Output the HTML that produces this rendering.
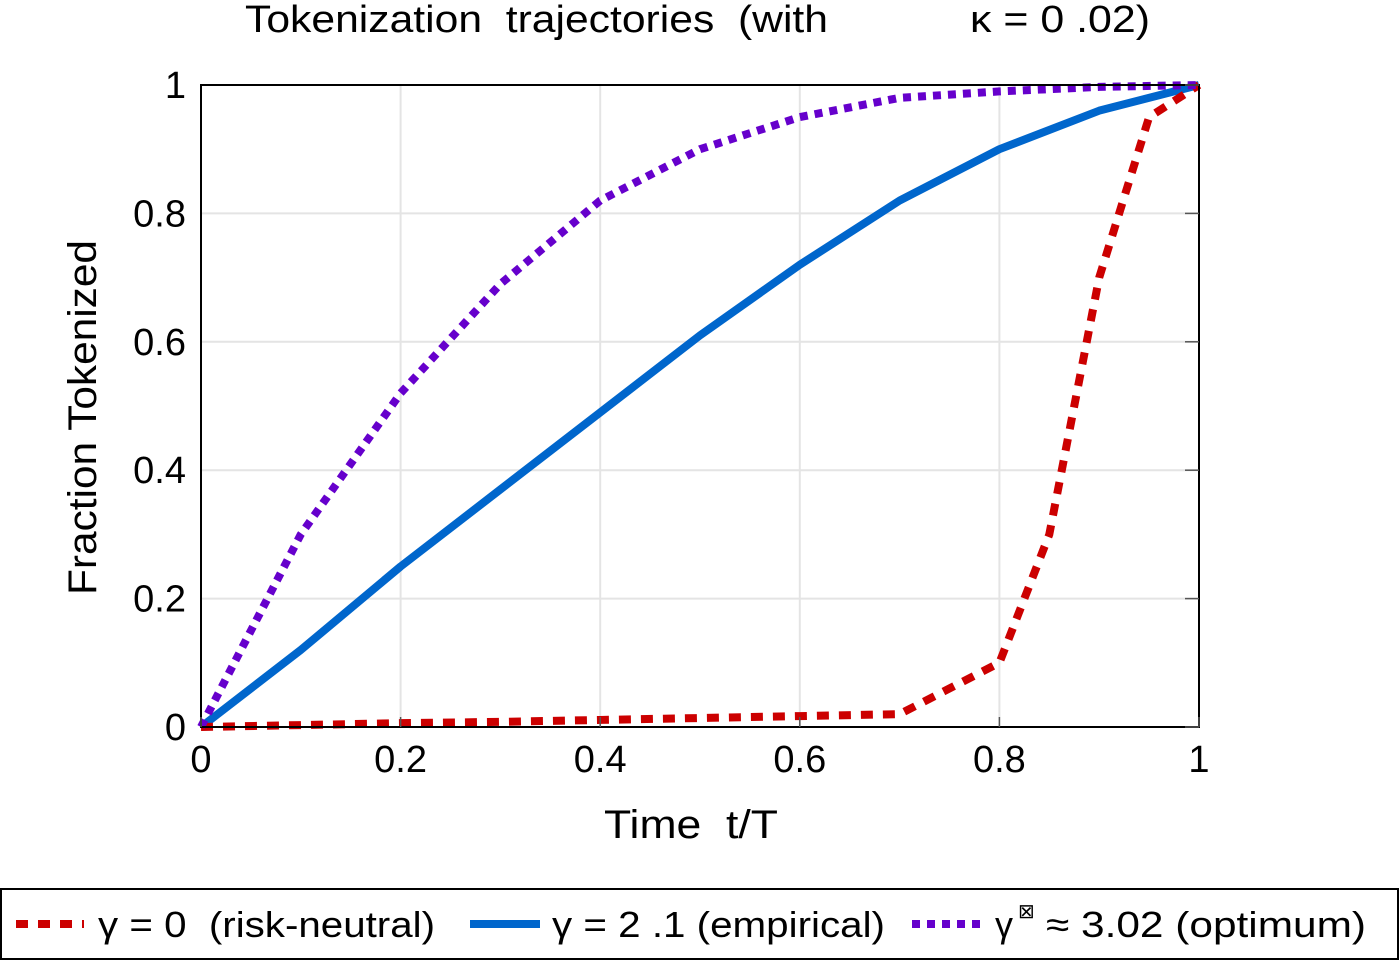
<!DOCTYPE html>
<html><head><meta charset="utf-8"><style>
html,body{margin:0;padding:0;background:#fff;}
svg text{font-family:"Liberation Sans",sans-serif;fill:#000;white-space:pre;}
</style></head><body>
<svg id="chart" width="1400" height="961" xmlns="http://www.w3.org/2000/svg">
<g>
<text x="245" y="32" font-size="38" textLength="583" lengthAdjust="spacingAndGlyphs">Tokenization  trajectories  (with</text>
<text x="970" y="32" font-size="38" textLength="180" lengthAdjust="spacingAndGlyphs">κ = 0 .02)</text>
</g>
<g id="grid"></g>
<g id="series"></g>
<rect x="201" y="85" width="998" height="642" fill="none" stroke="#000" stroke-width="2"/>
<g id="ticks"></g>
<text x="604" y="838" font-size="40" textLength="174" lengthAdjust="spacingAndGlyphs">Time  t/T</text>
<text transform="translate(96,595) rotate(-90)" font-size="40" textLength="355" lengthAdjust="spacingAndGlyphs">Fraction Tokenized</text>
<g>
<rect x="1" y="889" width="1397" height="70" fill="#fff" stroke="#000" stroke-width="2"/>
<g>
<line x1="16" y1="924" x2="84" y2="924" stroke="#cc0000" stroke-width="8" stroke-dasharray="12,10"/>
<text x="98" y="937" font-size="36" textLength="337" lengthAdjust="spacingAndGlyphs">γ = 0  (risk-neutral)</text></g>
<g>
<line x1="470" y1="924" x2="540" y2="924" stroke="#0066cc" stroke-width="8"/>
<text x="552" y="937" font-size="36" textLength="333" lengthAdjust="spacingAndGlyphs">γ = 2 .1 (empirical)</text></g>
<g>
<line x1="912" y1="924" x2="985" y2="924" stroke="#6600cc" stroke-width="8" stroke-dasharray="8,7"/>
<text x="995" y="937" font-size="36">γ</text>
<text x="1018" y="918" font-size="20">⊠</text>
<text x="1046" y="937" font-size="36" textLength="320" lengthAdjust="spacingAndGlyphs">≈ 3.02 (optimum)</text></g>
</g>
</svg>
<script>
const xTicks=[0,0.2,0.4,0.6,0.8,1];
const yTicks=[0,0.2,0.4,0.6,0.8,1];
const xTickLabels=["0","0.2","0.4","0.6","0.8","1"];
const yTickLabels=["0","0.2","0.4","0.6","0.8","1"];
const redX=[0,0.1,0.2,0.3,0.4,0.5,0.6,0.7,0.8,0.85,0.9,0.95,1];
const redY=[0,0.003,0.006,0.008,0.011,0.014,0.017,0.02,0.1,0.3,0.7,0.95,1];
const blueX=[0,0.1,0.2,0.3,0.4,0.5,0.6,0.7,0.8,0.9,1];
const blueY=[0,0.12,0.25,0.37,0.49,0.61,0.72,0.82,0.9,0.96,1];
const purpleX=[0,0.1,0.2,0.3,0.4,0.5,0.6,0.7,0.8,0.9,1];
const purpleY=[0,0.3,0.52,0.69,0.82,0.9,0.95,0.98,0.99,0.997,1];
const NS="http://www.w3.org/2000/svg";
const sx=v=>201+v*998, sy=v=>727-v*642;
const grid=document.getElementById('grid'),ticks=document.getElementById('ticks'),series=document.getElementById('series');
function mk(tag,attrs,parent){const e=document.createElementNS(NS,tag);for(const k in attrs)e.setAttribute(k,attrs[k]);parent.appendChild(e);return e;}
xTicks.forEach((t,i)=>{
  const g=mk('line',{x1:sx(t),x2:sx(t),y1:85,y2:727,stroke:'#e4e4e4','stroke-width':2},grid);
  
  
  const tk=mk('line',{x1:sx(t),x2:sx(t),y1:727,y2:717,stroke:'#555','stroke-width':1.5},ticks);
  
  
  const tx=mk('text',{x:sx(t),y:772,'font-size':38,'text-anchor':'middle'},ticks);
  tx.textContent=xTickLabels[i];
  
  
});
yTicks.forEach((t,i)=>{
  const g=mk('line',{x1:201,x2:1199,y1:sy(t),y2:sy(t),stroke:'#e4e4e4','stroke-width':2},grid);
  
  
  const tk=mk('line',{x1:1199,x2:1185,y1:sy(t),y2:sy(t),stroke:'#555','stroke-width':1.5},ticks);
  
  
  const tx=mk('text',{x:186,y:sy(t)+13,'font-size':38,'text-anchor':'end'},ticks);
  tx.textContent=yTickLabels[i];
  
  
});
function line(xs,ys,color,dash,name){
  const p=mk('polyline',{points:xs.map((x,i)=>sx(x)+','+sy(ys[i])).join(' '),fill:'none',stroke:color,'stroke-width':8,'stroke-linejoin':'round'},series);
  if(dash)p.setAttribute('stroke-dasharray',dash);
  
  
}
line(blueX,blueY,'#0066cc',null,'line-empirical');
line(redX,redY,'#cc0000','12,10','line-risk-neutral');
line(purpleX,purpleY,'#6600cc','8,7','line-optimum');
</script>
</body></html>
